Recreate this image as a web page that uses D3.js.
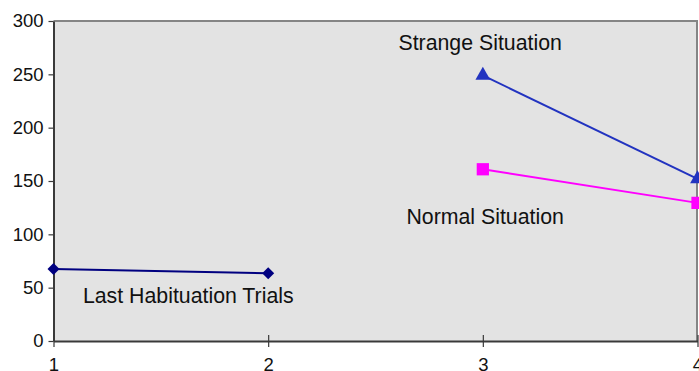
<!DOCTYPE html>
<html>
<head>
<meta charset="utf-8">
<script src="https://cdn.jsdelivr.net/npm/d3@7"></script>
<style>
  body { margin: 0; background: #fff; }
  svg { display: block; font-family: "Liberation Sans", Arial, sans-serif; }
</style>
</head>
<body>
<svg id="drawing_region"></svg>
<script>
// values
const xTicks = [1, 2, 3, 4];
const yTicks = [0, 50, 100, 150, 200, 250, 300];

const habitX = [1, 2];
const habitY = [67.5, 63.5];

const strangeX = [3, 4];
const strangeY = [249, 152];

const normalX = [3, 4];
const normalY = [161, 129.5];

const labelText = ["Strange Situation", "Normal Situation", "Last Habituation Trials"];
const labelX = [2.607, 2.644, 1.137];
const labelY = [272.8, 109.7, 35.6];

const config = {
    width: 699,
    height: 371,
    margin: {top: 21, right: 1, bottom: 30, left: 53.5}
};

const svg = d3.select('#drawing_region')
    .attr('width', config.width)
    .attr('height', config.height);

const inner_width = config.width - config.margin.left - config.margin.right;
const inner_height = config.height - config.margin.top - config.margin.bottom;

const chart = svg.append('g')
    .attr('transform', `translate(${config.margin.left}, ${config.margin.top})`);

const xscale = d3.scaleLinear()
    .domain([1, 4])
    .range([0, inner_width - 0.5]);

const yscale = d3.scaleLinear()
    .domain([0, 300])
    .range([inner_height, 0]);

// plot background
chart.append('rect')
    .attr('x', 0)
    .attr('y', 0)
    .attr('width', inner_width)
    .attr('height', inner_height)
    .attr('fill', '#e3e3e3');

// top + right border
chart.append('path')
    .attr('d', `M0,0H${inner_width - 1}V${inner_height}`)
    .attr('fill', 'none')
    .attr('stroke', '#858585')
    .attr('stroke-width', 2);

// y axis
const yaxis = d3.axisLeft(yscale)
    .tickValues(yTicks)
    .tickSize(5)
    .tickSizeOuter(0)
    .tickPadding(5);

const yaxis_group = chart.append('g').call(yaxis);
yaxis_group.select('.domain').attr('stroke', '#3a3a3a').attr('stroke-width', 2);
yaxis_group.selectAll('.tick line').attr('stroke', '#3a3a3a').attr('stroke-width', 1.2);
yaxis_group.selectAll('.tick text')
    .attr('font-size', '18.5px')
    .attr('font-family', '"Liberation Sans", Arial, sans-serif')
    .attr('fill', '#111');

// x axis
const xaxis = d3.axisBottom(xscale)
    .tickValues(xTicks)
    .tickFormat(d3.format('d'))
    .tickSize(6)
    .tickSizeOuter(0);

const xaxis_group = chart.append('g')
    .attr('transform', `translate(0, ${inner_height})`)
    .call(xaxis);
xaxis_group.select('.domain').attr('stroke', '#3a3a3a').attr('stroke-width', 2);
xaxis_group.selectAll('.tick line')
    .attr('y1', -6)
    .attr('stroke', '#3a3a3a')
    .attr('stroke-width', 1.2);
xaxis_group.selectAll('.tick text')
    .attr('y', 17)
    .attr('font-size', '18.5px')
    .attr('font-family', '"Liberation Sans", Arial, sans-serif')
    .attr('fill', '#111');

// series lines
const line = d3.line()
    .x(d => xscale(d[0]))
    .y(d => yscale(d[1]));

// diamond = square turned 45 degrees (Excel style, as wide as tall)
const series = [
    {xs: habitX, ys: habitY, color: '#000080', marker: d3.symbolSquare, size: 72, rot: 45},
    {xs: strangeX, ys: strangeY, color: '#2233c0', marker: d3.symbolTriangle, size: 95, rot: 0},
    {xs: normalX, ys: normalY, color: '#ff00ff', marker: d3.symbolSquare, size: 150, rot: 0}
];

series.forEach(s => {
    const pts = s.xs.map((x, i) => [x, s.ys[i]]);
    chart.append('path')
        .datum(pts)
        .attr('d', line)
        .attr('fill', 'none')
        .attr('stroke', s.color)
        .attr('stroke-width', 2);

    chart.selectAll(null)
        .data(pts)
        .enter()
        .append('path')
        .attr('transform', d => `translate(${xscale(d[0])}, ${yscale(d[1])}) rotate(${s.rot})`)
        .attr('d', d3.symbol().type(s.marker).size(s.size))
        .attr('fill', s.color);
});

// annotations
chart.selectAll('.note')
    .data(labelText)
    .enter()
    .append('text')
    .attr('class', 'note')
    .attr('x', (d, i) => xscale(labelX[i]))
    .attr('y', (d, i) => yscale(labelY[i]))
    .attr('font-size', '21.3px')
    .attr('fill', '#111')
    .text(d => d);
</script>
</body>
</html>
